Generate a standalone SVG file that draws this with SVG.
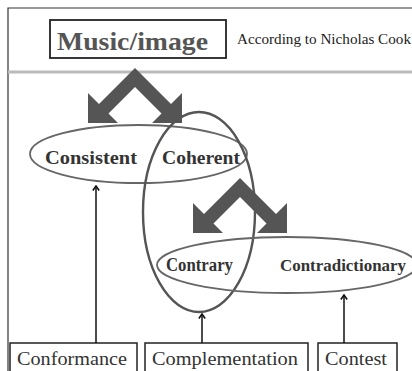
<svg xmlns="http://www.w3.org/2000/svg" width="412" height="371" viewBox="0 0 412 371">
<defs>
<style>
.serif{font-family:"Liberation Serif","Times New Roman",serif}
.lbl{font-family:"Liberation Serif","Times New Roman",serif;font-weight:bold;font-size:18px;fill:#333}
.box{fill:#fff;stroke:#222;stroke-width:1.5}
.btxt{font-family:"Liberation Serif","Times New Roman",serif;font-size:19px;fill:#333}
.ell{fill:none;stroke:#666;stroke-width:1.8}
.conn{stroke:#111;stroke-width:1.5;fill:none;marker-end:url(#ah)}
.chev{fill:#555}
</style>
<marker id="ah" viewBox="0 0 10 10" refX="9" refY="5" markerWidth="9" markerHeight="9" orient="auto" markerUnits="userSpaceOnUse">
<path d="M4,1.5 L9,5 L4,8.5" fill="none" stroke="#111" stroke-width="1.8"/>
</marker>
<polygon id="chevron" points="135,68 171,104 182,93 182,123 152,123 161.5,113.5 135,87 108.5,113.5 118,123 88,123 88,93 99,104"/>
</defs>
<rect width="412" height="371" fill="#fff"/>
<path d="M8,371 V8 H412" fill="none" stroke="#333" stroke-width="1.2"/>
<line x1="8" y1="72" x2="412" y2="72" stroke="#bbb" stroke-width="3"/>
<g id="title">
<rect x="50" y="20" width="176" height="38" fill="#fff" stroke="#222" stroke-width="1.8"/>
<text x="57" y="50" class="serif" font-size="25" font-weight="bold" fill="#555" textLength="151" lengthAdjust="spacingAndGlyphs">Music/image</text>
</g>
<g id="subtitle">
<text x="237" y="44" class="serif" font-size="14" fill="#222" textLength="174" lengthAdjust="spacingAndGlyphs">According to Nicholas Cook</text>
</g>
<g id="chevron1"><use href="#chevron" class="chev"/></g>
<g id="chevron2"><use href="#chevron" class="chev" transform="translate(105,110)"/></g>
<g id="ellipse-consistent-coherent">
<ellipse cx="138.5" cy="154" rx="108.5" ry="29" class="ell"/>
<text x="45" y="164" class="lbl" textLength="92" lengthAdjust="spacingAndGlyphs">Consistent</text>
<text x="162" y="164" class="lbl" textLength="78" lengthAdjust="spacingAndGlyphs">Coherent</text>
</g>
<g id="ellipse-coherent-contrary">
<ellipse cx="199" cy="212" rx="56" ry="100" fill="none" stroke="#555" stroke-width="2.4"/>
</g>
<g id="ellipse-contrary-contradictionary">
<ellipse cx="287" cy="265" rx="130" ry="28" class="ell"/>
<text x="166" y="271" class="lbl" textLength="67" lengthAdjust="spacingAndGlyphs">Contrary</text>
<text x="280" y="271" class="lbl" font-size="16.5" textLength="126" lengthAdjust="spacingAndGlyphs" style="font-size:16.5px">Contradictionary</text>
</g>
<g id="conformance">
<rect x="10" y="343" width="127" height="40" class="box"/>
<text x="17" y="365" class="btxt" textLength="110" lengthAdjust="spacingAndGlyphs">Conformance</text>
</g>
<g id="complementation">
<rect x="145" y="343" width="163" height="40" class="box"/>
<text x="152" y="365" class="btxt" textLength="146" lengthAdjust="spacingAndGlyphs">Complementation</text>
</g>
<g id="contest">
<rect x="318" y="343" width="79" height="40" class="box"/>
<text x="325" y="365" class="btxt" textLength="62" lengthAdjust="spacingAndGlyphs">Contest</text>
</g>
<g id="connectors">
<line x1="96" y1="343" x2="96" y2="186" class="conn"/>
<line x1="202" y1="343" x2="202" y2="314" class="conn"/>
<line x1="344" y1="343" x2="344" y2="295" class="conn"/>
</g>
</svg>
